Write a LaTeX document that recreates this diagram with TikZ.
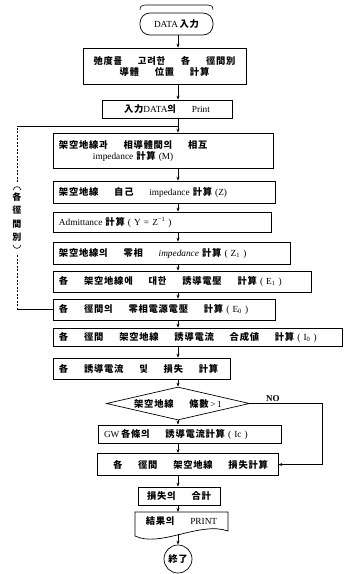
\documentclass[tikz,border=0pt]{standalone}
\usepackage{fontspec}
\setmainfont{Liberation Serif}
\newfontfamily\krfont{Noto Sans CJK KR}[LetterSpace=8]
\usetikzlibrary{shapes.geometric,arrows.meta}
\newcommand{\K}[1]{{\krfont\bfseries #1}}
\newcommand{\G}{\hspace{1.7em}}
\begin{document}
\begin{tikzpicture}[x=1pt,y=-1pt,
  every node/.style={font=\fontsize{9.3}{11}\selectfont},
  box/.style={draw,line width=0.7pt,rectangle,inner xsep=6pt,inner ysep=1pt,align=left},
  flow/.style={line width=0.6pt,-{Stealth[length=4pt,width=3pt]}},
  link/.style={line width=0.6pt},
  dlink/.style={line width=0.6pt,dash pattern=on 2pt off 1.5pt}]
\useasboundingbox (0,0) rectangle (345,574);
\coordinate (sp) at (178,0);
\coordinate (lp) at (17,0);
\coordinate (rp) at (322,0);

% top bracket over the terminal
\draw[link] (140,10) .. controls (140.5,6) .. (145,5) -- (208,5) .. controls (212.5,6) .. (213,10);
\node[draw,line width=0.7pt,rounded corners=10pt,minimum width=73pt,minimum height=22pt,inner sep=0pt] (start) at (176.5,24) {DATA\,\K{入力}};

\node[box,align=center,minimum width=163pt,minimum height=36pt,text width=151pt] (b2) at (164.5,66)
  {\K{弛度를}\G\K{고려한}\G\K{各}\G\K{徑間別}\\\K{導體}\G\K{位置}\G\K{計算}};
\node[box,align=center,minimum width=130pt,minimum height=18pt] (b3) at (167,109) {\K{入力}DATA\K{의}\G Print};
\node[box,minimum width=220pt,minimum height=35pt,text width=208pt] (b4) at (163,150.5)
  {\K{架空地線과}\G\K{相導體間의}\G\K{相互}\\\hspace*{34pt}impedance \K{計算} (M)};
\node[box,minimum width=222pt,minimum height=22pt,text width=210pt] (b5) at (164,192)
  {\K{架空地線}\G\K{自己}\G impedance \K{計算} (Z)};
\node[box,minimum width=218pt,minimum height=20pt,text width=206pt] (b6) at (162,222)
  {Admittance \K{計算} ( Y = Z\textsuperscript{−1} )};
\node[box,minimum width=237pt,minimum height=22pt,text width=225pt] (b7) at (171.5,253)
  {\K{架空地線의}\G\K{零相}\G\textit{impedance} \K{計算} ( Z\textsubscript{1} )};
\node[box,minimum width=258pt,minimum height=21pt,text width=246pt] (b8) at (182,281.5)
  {\K{各}\G\K{架空地線에}\G\K{대한}\G\K{誘導電壓}\G\K{計算} ( E\textsubscript{1} )};
\node[box,minimum width=222pt,minimum height=21pt,text width=210pt] (b9) at (164,309.5)
  {\K{各}\G\K{徑間의}\G\K{零相電源電壓}\G\K{計算} ( E\textsubscript{0} )};
\node[box,minimum width=289pt,minimum height=18pt,text width=277pt] (b10) at (197.5,337)
  {\K{各}\G\K{徑間}\G\K{架空地線}\G\K{誘導電流}\G\K{合成値}\G\K{計算} ( I\textsubscript{0} )};
\node[box,minimum width=177pt,minimum height=21pt,text width=165pt] (b11) at (141.5,368.5)
  {\K{各}\G\K{誘導電流}\G\K{및}\G\K{損失}\G\K{計算}};
\node[diamond,draw,line width=0.7pt,aspect=4.3,inner sep=0pt,minimum width=143pt,minimum height=33pt] (dia) at (178,403.5)
  {\K{架空地線}\G\K{條數}\,>\,1};
\node[box,minimum width=183pt,minimum height=18pt,text width=171pt] (b13) at (189.5,434)
  {GW\,\K{各條의}\G\K{誘導電流計算} ( Ic )};
\node[box,minimum width=181pt,minimum height=22pt,text width=169pt] (b14) at (187.5,464.5)
  {\hspace*{10pt}\K{各}\G\K{徑間}\G\K{架空地線}\G\K{損失計算}};
\node[box,align=center,minimum width=82pt,minimum height=18pt] (b15) at (179,496)
  {\K{損失의}\G\K{合計}};
\node[minimum width=93pt,minimum height=14pt,inner sep=0pt] (doc) at (181.5,521) {\K{結果의}\G PRINT};
\coordinate (docb) at (178,534);
\draw[line width=0.7pt] (135,536) -- (135,512) -- (228,512) -- (228,531) .. controls (200,521) and (160,548) .. (135,536);
\node[circle,draw,line width=0.7pt,minimum size=28pt,inner sep=0pt] (end) at (178,559) {\K{終了}};

% main flow
\draw[flow] (start.south -| sp) -- (b2.north -| sp);
\draw[flow] (b2.south -| sp) -- (b3.north -| sp);
\draw[flow] (b3.south -| sp) -- (b4.north -| sp);
\draw[flow] (b4.south -| sp) -- (b5.north -| sp);
\draw[flow] (b5.south -| sp) -- (b6.north -| sp);
\draw[flow] (b6.south -| sp) -- (b7.north -| sp);
\draw[flow] (b7.south -| sp) -- (b8.north -| sp);
\draw[flow] (b8.south -| sp) -- (b9.north -| sp);
\draw[flow] (b9.south -| sp) -- (b10.north -| sp);
\draw[flow] (b10.south -| sp) -- (b11.north -| sp);
\draw[flow] (b11.south -| sp) -- (dia.north);
\draw[flow] (dia.south) -- (b13.north -| sp);
\draw[flow] (b13.south -| sp) -- (b14.north -| sp);
\draw[flow] (b14.south -| sp) -- (b15.north -| sp);
\draw[flow] (b15.south -| sp) -- (sp |- 512,512);
\draw[flow] (docb) -- (end.north);

% NO branch
\draw[flow] (dia.east) -- node[above,pos=0.32,inner sep=1.5pt,font=\fontsize{9}{11}\selectfont\bfseries]{NO} (dia.east -| rp) |- (b14.east);

% loop over spans
\coordinate (lt) at (17,126);
\coordinate (ltop) at (17,182);
\coordinate (lbot) at (17,254);
\node[align=center,inner sep=0pt,font=\fontsize{9}{13.5}\selectfont] (lbl) at (17,217) {\K{各}\\\K{徑}\\\K{間}\\\K{別}};
\draw[link] (13,190) .. controls (14,185.5) and (20,185.5) .. (21,190);
\draw[link] (13,245) .. controls (14,249.5) and (20,249.5) .. (21,245);
\draw[link] (b9.west) -- (b9.west -| lp);
\draw[dlink] (b9.west -| lp) -- (lbot);
\draw[dlink] (ltop) -- (lt);
\draw[link] (lt) -- (lt -| sp);
\end{tikzpicture}
\end{document}
